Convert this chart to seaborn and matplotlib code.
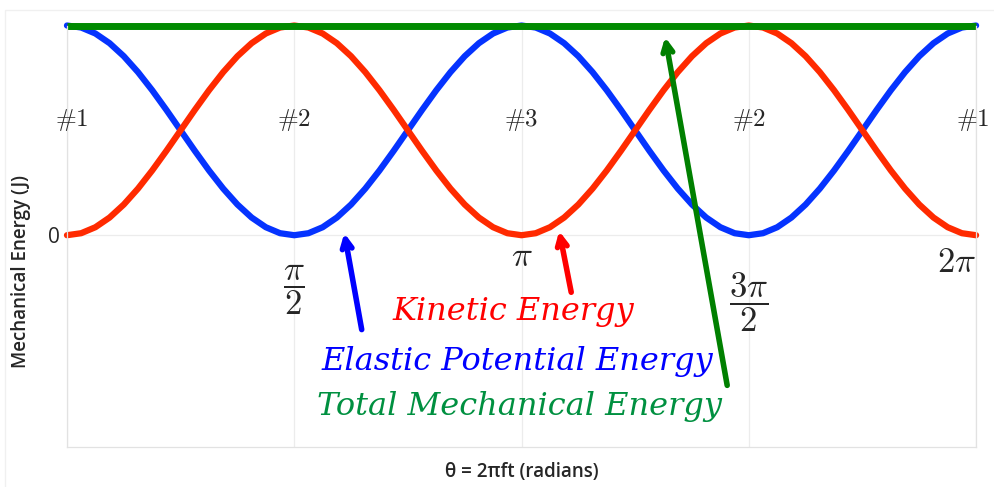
import numpy as np
import pandas as pd
import seaborn as sns
import matplotlib.pyplot as plt
from matplotlib.patches import Rectangle

# theta sampled every pi/32 across one full cycle (0 .. 2pi)
theta_steps = list(range(65))
kinetic = [0.0000, 0.0096, 0.0381, 0.0843, 0.1464, 0.2222, 0.3087, 0.4025,
           0.5000, 0.5975, 0.6913, 0.7778, 0.8536, 0.9157, 0.9619, 0.9904,
           1.0000, 0.9904, 0.9619, 0.9157, 0.8536, 0.7778, 0.6913, 0.5975,
           0.5000, 0.4025, 0.3087, 0.2222, 0.1464, 0.0843, 0.0381, 0.0096,
           0.0000, 0.0096, 0.0381, 0.0843, 0.1464, 0.2222, 0.3087, 0.4025,
           0.5000, 0.5975, 0.6913, 0.7778, 0.8536, 0.9157, 0.9619, 0.9904,
           1.0000, 0.9904, 0.9619, 0.9157, 0.8536, 0.7778, 0.6913, 0.5975,
           0.5000, 0.4025, 0.3087, 0.2222, 0.1464, 0.0843, 0.0381, 0.0096,
           0.0000]
elastic = [1.0000, 0.9904, 0.9619, 0.9157, 0.8536, 0.7778, 0.6913, 0.5975,
           0.5000, 0.4025, 0.3087, 0.2222, 0.1464, 0.0843, 0.0381, 0.0096,
           0.0000, 0.0096, 0.0381, 0.0843, 0.1464, 0.2222, 0.3087, 0.4025,
           0.5000, 0.5975, 0.6913, 0.7778, 0.8536, 0.9157, 0.9619, 0.9904,
           1.0000, 0.9904, 0.9619, 0.9157, 0.8536, 0.7778, 0.6913, 0.5975,
           0.5000, 0.4025, 0.3087, 0.2222, 0.1464, 0.0843, 0.0381, 0.0096,
           0.0000, 0.0096, 0.0381, 0.0843, 0.1464, 0.2222, 0.3087, 0.4025,
           0.5000, 0.5975, 0.6913, 0.7778, 0.8536, 0.9157, 0.9619, 0.9904,
           1.0000]
total = [1.0] * 65

position_labels = ["#1", "#2", "#3", "#2", "#1"]
quarter_ticks = [0, 1, 2, 3, 4]  # in units of pi/2

theta = np.array(theta_steps) * np.pi / 32
df = pd.DataFrame({"theta": theta, "kinetic": kinetic,
                   "elastic": elastic, "total": total})

sns.set_style("white")
plt.rcParams["mathtext.fontset"] = "cm"
fig = plt.figure(figsize=(9.95, 4.87), dpi=100)
ax = fig.add_axes([0.0673, 0.0821, 0.9137, 0.8655])

sns.lineplot(data=df, x="theta", y="elastic", ax=ax, color="#0533ff",
             lw=4.5, clip_on=False)
sns.lineplot(data=df, x="theta", y="kinetic", ax=ax, color="#ff2a00",
             lw=4.5, clip_on=False)
sns.lineplot(data=df, x="theta", y="total", ax=ax, color="#008a00",
             lw=5.0, clip_on=False, solid_capstyle="butt")

ax.set_xlim(0, 2 * np.pi)
ax.set_ylim(-1.01, 1.0)
ax.set_xticks([q * np.pi / 2 for q in quarter_ticks])
ax.set_xticklabels([])
ax.set_yticks([0])
ax.set_yticklabels(["0"], fontsize=15, family="Open Sans")
ax.tick_params(length=0, pad=5)
ax.grid(True, color="#ececec", lw=0.9)
ax.set_axisbelow(True)
for s in ["left", "right", "bottom"]:
    ax.spines[s].set_color("#e2e2e2")
    ax.spines[s].set_linewidth(0.9)
ax.spines["top"].set_visible(False)

ax.set_xlabel("θ = 2πft (radians)", fontsize=13.5, fontweight="semibold",
              family="Open Sans", labelpad=6)
ax.set_ylabel("Mechanical Energy (J)", fontsize=13.5, fontweight="semibold",
              family="Open Sans")
ax.yaxis.set_label_coords(-0.04, 0.416)

# position markers (end ones nudged inwards a little, as in the original)
nudge = [0.03, 0, 0, 0, -0.02]
for q, lab, dx in zip(quarter_ticks, position_labels, nudge):
    ax.text(q * np.pi / 2 + dx, 0.55, r"$\#" + lab[1] + "$", ha="center",
            va="center", fontsize=18, clip_on=False)

# multiples of pi below the zero line
ax.text(np.pi / 2, -0.26, r"$\dfrac{\pi}{2}$", ha="center", va="center",
        fontsize=25)
ax.text(np.pi, -0.10, r"$\pi$", ha="center", va="center", fontsize=25)
ax.text(3 * np.pi / 2, -0.32, r"$\dfrac{3\pi}{2}$", ha="center",
        va="center", fontsize=25)
ax.text(2 * np.pi, -0.13, r"$2\pi$", ha="right", va="center",
        fontsize=25, clip_on=False)

# legend-like labels with arrows
lab_kw = dict(ha="center", va="baseline", fontsize=23, style="italic",
              family="DejaVu Serif")
ax.text(np.pi * 0.983, -0.406, "Kinetic Energy", color="#ff0000", **lab_kw)
ax.text(np.pi * 0.99, -0.644, "Elastic Potential Energy", color="#0000ff",
        **lab_kw)
ax.text(np.pi * 0.995, -0.859, "Total Mechanical Energy", color="#009040",
        **lab_kw)

arrow_kw = dict(arrowstyle="->,head_length=0.7,head_width=0.35", lw=4,
                shrinkA=0, shrinkB=0)
ax.annotate("", xy=(1.917, 0.01), xytext=(2.037, -0.45),
            arrowprops=dict(color="#0000ff", **arrow_kw))
ax.annotate("", xy=(3.402, 0.02), xytext=(3.485, -0.272),
            arrowprops=dict(color="#ff0000", **arrow_kw))
ax.annotate("", xy=(4.134, 0.945), xytext=(4.563, -0.716),
            arrowprops=dict(color="#008000", **arrow_kw))

# faint outer frame
fig.patches.append(Rectangle((0.005, -0.1), 1.2, 1.08, transform=fig.transFigure,
                             fill=False, edgecolor="#f0f0f0", lw=1))

fig.savefig("out.png", dpi=100)
